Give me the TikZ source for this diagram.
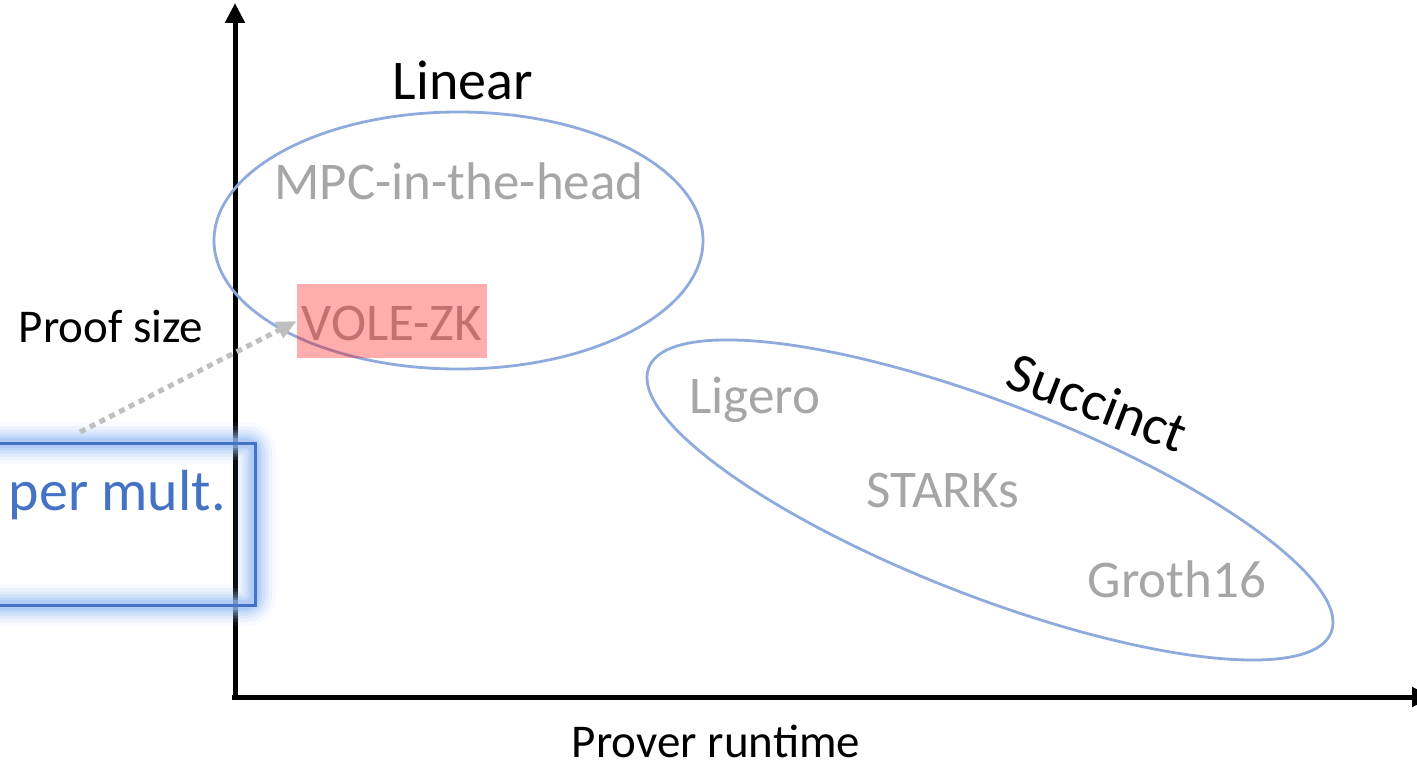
\documentclass[tikz,border=0pt]{standalone}
\usepackage{fontspec}
\setmainfont{Carlito}
\usetikzlibrary{arrows.meta}
\definecolor{ringblue}{HTML}{8FAADC}
\definecolor{labelgray}{HTML}{A6A6A6}
\definecolor{boxblue}{HTML}{4472C4}
\definecolor{glowblue}{HTML}{9CBFF5}
\definecolor{dotgray}{HTML}{BFBFBF}
\begin{document}
\begin{tikzpicture}[x=1pt,y=-1pt,
  axisline/.style={line width=5pt,-{Triangle[width=19pt,length=20pt]}},
  groupring/.style={draw=ringblue,line width=2.8pt},
  schemelabel/.style={text=labelgray,font=\fontsize{53}{60}\selectfont,inner sep=0pt,anchor=base},
  classlabel/.style={text=black,font=\fontsize{56}{62}\selectfont,inner sep=0pt,anchor=base},
  axislabel/.style={text=black,font=\fontsize{47}{54}\selectfont,inner sep=0pt,anchor=base},
  highlight/.style={fill=red,fill opacity=0.32,minimum width=190pt,minimum height=74pt,inner sep=0pt},
  pointer/.style={draw=dotgray,line width=5pt,dash pattern=on 6pt off 5pt,
    -{Triangle[width=17pt,length=20pt,fill=dotgray]}}]
\useasboundingbox (0,0) rectangle (1417,765);
\clip (0,0) rectangle (1417,765);

% axes
\coordinate (origin) at (235,697);
\coordinate (ytop) at (235,3);
\coordinate (xend) at (1432,697);
\draw[axisline] (235,699) -- (ytop);
\draw[axisline] (232,697) -- (xend);

% group rings
\coordinate (linc) at (458.5,240.5);
\coordinate (succ) at (990,500);
\draw[groupring] (linc) ellipse [x radius=244.5, y radius=128.5];
\draw[groupring,rotate around={-21.2:(succ)}] (succ) ellipse [x radius=366, y radius=96.5];

% labels
\node[classlabel] (linlabel) at (463,100) {Linear};
\node[classlabel,anchor=center,rotate=-21] (suclabel) at (1098,402) {Succinct};
\node[schemelabel] (mpc) at (459,200) {MPC-in-the-head};
\node[schemelabel] (volezk) at (392,340) {VOLE-ZK};
\node[schemelabel] (ligero) at (755,413) {Ligero};
\node[schemelabel] (starks) at (943,507) {STARKs};
\node[schemelabel] (groth) at (1177,597) {Groth16};
\node[axislabel] (ylabel) at (111,342) {Proof size};
\node[axislabel] (xlabel) at (716,757) {Prover runtime};

% highlight over VOLE-ZK
\node[highlight] (vole) at (392,321) {};

% glowing callout box
\foreach \w/\o in {42/0.08,34/0.12,27/0.16,21/0.22,15/0.30,10/0.42}{
  \draw[glowblue,line width=\w pt,opacity=\o,line join=round,rounded corners=9pt]
    (-40,443) rectangle (255,605);
}
\node[draw=boxblue,line width=3pt,minimum width=295pt,minimum height=162pt,inner sep=0pt]
  (callout) at (107.5,524) {};
\node[text=boxblue,font=\fontsize{58}{64}\selectfont,inner sep=0pt,anchor=base east]
  (permult) at (226,510) {per mult.};

% dotted pointer
\coordinate (ptrstart) at (80,432);
\draw[pointer] (ptrstart) -- (vole.west);
\end{tikzpicture}
\end{document}
